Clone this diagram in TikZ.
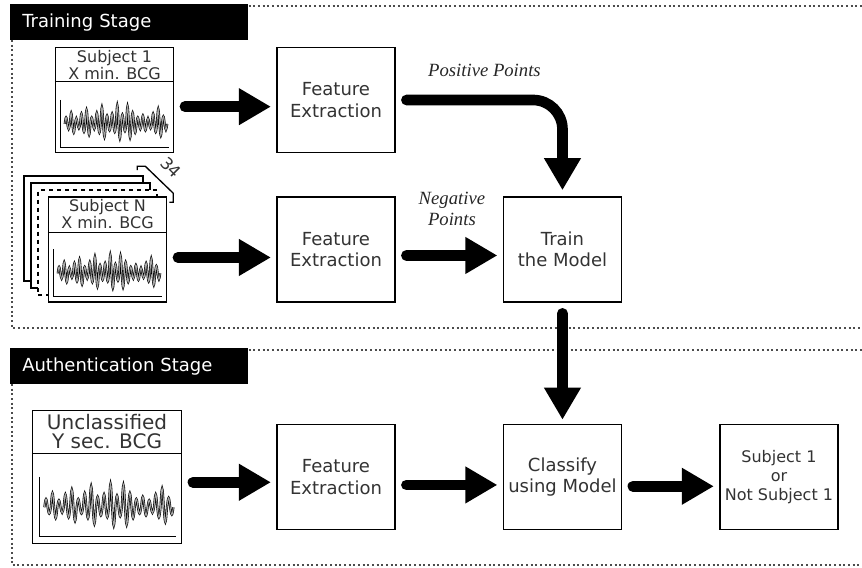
\documentclass[tikz,border=0pt]{standalone}
\usepackage{fontspec}
\setmainfont{DejaVu Sans}
\newfontfamily\labelfont{Liberation Serif}
\usetikzlibrary{positioning, calc, arrows.meta, backgrounds}

\tikzset{
  bcg/.pic={
    \draw[line width=1pt] (4.5pt,40pt) -- (4.5pt,4.5pt) -- (86pt,4.5pt);
    \draw[line width=0.45pt, double=black!35, double distance=0.75pt] (7.5pt,22pt)
      \foreach \a in {0.35,0.6,0.3,0.55,0.75,0.35,0.6,0.9,0.45,0.55,1.0,0.5,0.95,0.6,0.35,0.45,0.3,0.55,0.8,0.4} {
        sin ++(0.96pt,\a*14pt) cos ++(0.96pt,-\a*14pt) sin ++(0.96pt,-\a*11pt) cos ++(0.96pt,\a*11pt)
      };
  }
}

\begin{document}
\begin{tikzpicture}[
    block/.style={draw, line width=1.1pt, fill=white, minimum width=88.5pt, minimum height=78.75pt,
      align=center, text=black!80, font=\fontsize{13.5}{16}\selectfont},
    sigbox/.style={block, font=\fontsize{12}{11.5}\selectfont},
    page/.style={draw, line width=1.1pt, fill=white, minimum width=89pt, minimum height=78.75pt},
    title/.style={align=center, text=black!80, inner sep=0pt},
    stagehdr/.style={fill=black, text=white, anchor=north west, minimum width=178.5pt, minimum height=27pt,
      text width=160.5pt, inner xsep=9pt, align=left, font=\fontsize{13.5}{15}\selectfont},
    stageframe/.style={line width=1.5pt, black!70, dash pattern=on 1.5pt off 2pt},
    bigarrow/.style={line width=8pt, line cap=round, -{Triangle[width=26pt, length=24pt]}},
    lbl/.style={font=\labelfont\itshape\fontsize{14}{16}\selectfont, text=black!85, align=center}
]
    \path[use as bounding box] (0,0) rectangle (646.5pt,-425.25pt);

    % stage frames
    \node[stagehdr] (trainhdr) at (7.5pt,-3pt) {Training Stage};
    \node[stagehdr] (authhdr) at (7.5pt,-261pt) {Authentication Stage};
    \draw[stageframe] (trainhdr.north east |- 0,-4.5pt) -- (650pt,-4.5pt);
    \draw[stageframe] (9pt,-30pt) -- (9pt,-246pt) -- (650pt,-246pt);
    \draw[stageframe] (authhdr.north east |- 0,-262.5pt) -- (650pt,-262.5pt);
    \draw[stageframe] (9pt,-288pt) -- (9pt,-424pt) -- (650pt,-424pt);

    % training stage
    \node[block] (fe1) at (252pt,-75pt) {Feature\\Extraction};
    \node[sigbox] (sub1) [left=76.5pt of fe1] {};
    \node[block] (fe2) [below=32.25pt of fe1] {Feature\\Extraction};
    \node[sigbox] (subN) [left=81.75pt of fe2] {};
    \node[block] (train) [right=80.25pt of fe2] {Train\\the Model};

    % stack of subjects behind subject N
    \begin{scope}[on background layer]
        \foreach \dx/\dy/\nm/\ls in {-18/15.75/pageA/solid, -12.75/10.5/pageB/solid, -7.5/5.25/pageC/dashed} {
            \node[page, \ls] (\nm) at ([shift={(\dx pt,\dy pt)}]subN.center) {};
        }
    \end{scope}
    \draw[line width=1pt] ([shift={(-22.5pt,19.5pt)}]subN.north east) -- ++(0,3pt) -- ++(6pt,0)
        -- ([shift={(4.5pt,2.25pt)}]subN.north east) -- ++(0,-6.75pt) -- ++(-3pt,0);
    \node[rotate=-45, text=black!80, inner sep=0pt, font=\fontsize{12.5}{12}\selectfont] (count) at ([shift={(3pt,21.5pt)}]subN.north east) {34};

    \node[title, font=\fontsize{12}{11.5}\selectfont] (sub1t) at ([yshift=-13.5pt]sub1.north) {Subject 1\\X min. BCG};
    \draw[line width=1pt] ([yshift=-26.25pt]sub1.north west) -- ([yshift=-26.25pt]sub1.north east);
    \pic at (sub1.south west) {bcg};

    \node[title, font=\fontsize{12}{11.5}\selectfont] (subNt) at ([yshift=-13.5pt]subN.north) {Subject N\\X min. BCG};
    \draw[line width=1pt] ([yshift=-27pt]subN.north west) -- ([yshift=-27pt]subN.north east);
    \pic at (subN.south west) {bcg};

    \draw[bigarrow] ([shift={(8pt,-5pt)}]sub1.east) -- ([shift={(-4pt,-5pt)}]fe1.west);
    \draw[bigarrow] ([shift={(8pt,-6pt)}]subN.east) -- ([shift={(-4pt,-6pt)}]fe2.west);
    \draw[bigarrow] ([shift={(8pt,-4.5pt)}]fe2.east) -- node[lbl, above=15pt] (neg) {Negative\\Points} ([shift={(-4pt,-4.5pt)}]train.west);
    \draw[bigarrow, rounded corners=22pt] ([xshift=8pt]fe1.east) -| node[lbl, pos=0.25, above=10pt] (pos) {Positive Points} ([yshift=4.5pt]train.north);

    % authentication stage
    \node[block] (classify) [below=90.75pt of train] {Classify\\using Model};
    \node[block] (fe3) [left=80.25pt of classify] {Feature\\Extraction};
    \node[block, minimum width=111.75pt, minimum height=99.75pt] (uncl) [left=70.5pt of fe3] {};
    \node[block, font=\fontsize{12}{14}\selectfont] (result) [right=72.75pt of classify] {Subject 1\\or\\Not Subject 1};

    \node[title, font=\fontsize{15}{14}\selectfont] (unclt) at ([yshift=-16.5pt]uncl.north) {Unclassified\\Y sec. BCG};
    \draw[line width=1pt] ([yshift=-33pt]uncl.north west) -- ([yshift=-33pt]uncl.north east);
    \pic[scale=1.26] at (uncl.south west) {bcg};

    \draw[bigarrow] ([yshift=-8pt]train.south) -- ([yshift=3pt]classify.north);
    \draw[bigarrow] ([shift={(8pt,-4pt)}]uncl.east) -- ([shift={(-4pt,-4pt)}]fe3.west);
    \draw[bigarrow] ([shift={(8pt,-6pt)}]fe3.east) -- ([shift={(-4pt,-6pt)}]classify.west);
    \draw[bigarrow] ([shift={(8pt,-7pt)}]classify.east) -- ([shift={(-4pt,-7pt)}]result.west);
\end{tikzpicture}
\end{document}
